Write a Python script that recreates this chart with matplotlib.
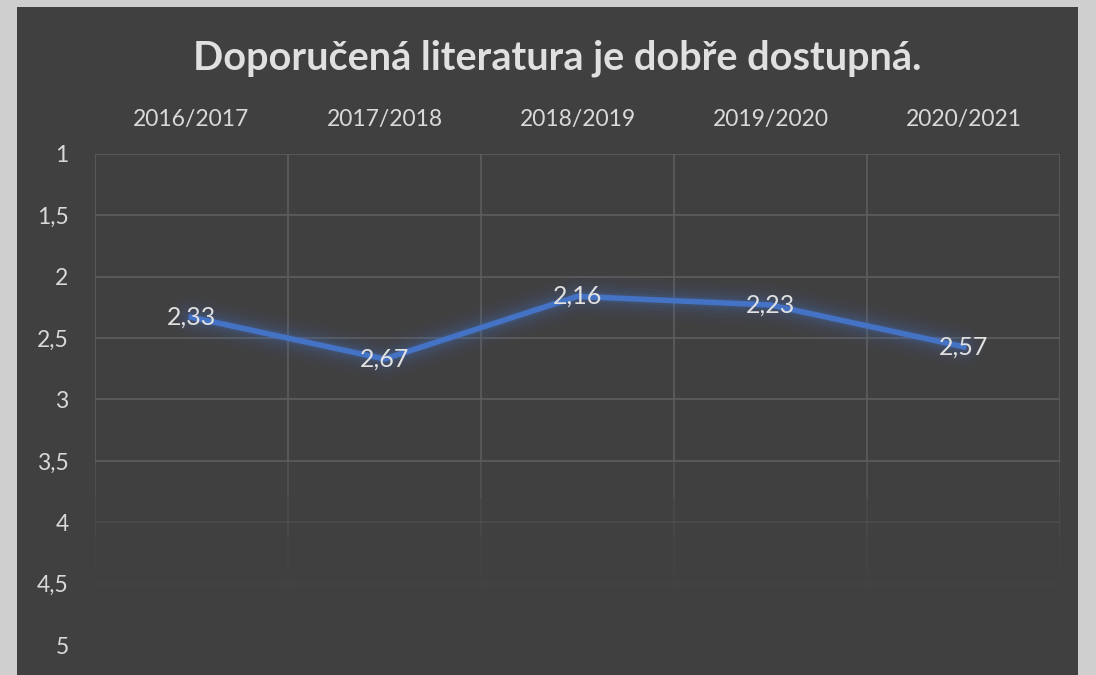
import matplotlib.pyplot as plt
from matplotlib.patches import Rectangle

years = ["2016/2017", "2017/2018", "2018/2019", "2019/2020", "2020/2021"]
scores = [2.33, 2.67, 2.16, 2.23, 2.57]
score_labels = ["2,33", "2,67", "2,16", "2,23", "2,57"]
y_ticks = [1, 1.5, 2, 2.5, 3, 3.5, 4, 4.5, 5]
y_tick_labels = ["1", "1,5", "2", "2,5", "3", "3,5", "4", "4,5", "5"]

plt.rcParams['font.family'] = ['Lato', 'DejaVu Sans']

fig = plt.figure(figsize=(10.96, 6.75), dpi=100)
fig.patch.set_facecolor("#cfcfcf")
# dark panel behind everything
fig.patches.append(Rectangle((17 / 1096, 0), (1078 - 17) / 1096, 1 - 7 / 675,
                             transform=fig.transFigure, facecolor="#404040",
                             edgecolor="none", zorder=-5))

ax = fig.add_axes([95 / 1096, 1 - 645 / 675, (1060 - 95) / 1096, (645 - 154) / 675])
ax.set_zorder(2)
ax.set_facecolor("none")
n = len(years)
x = list(range(n))
ax.set_xlim(-0.5, n - 0.5)
ax.set_ylim(5, 1)

# grid that fades out towards the bottom
grid_col = "#5e5e5e"
for yv in y_ticks:
    if yv <= 3.5:
        a = 1.0
    elif yv == 4:
        a = 0.35
    elif yv == 4.5:
        a = 0.12
    else:
        a = 0.0
    ax.plot([-0.5, n - 0.5], [yv, yv], color=grid_col, lw=1.2, alpha=a, zorder=1)
steps = [(1, 3.5, 1.0), (3.5, 3.8, 0.6), (3.8, 4.1, 0.35), (4.1, 4.4, 0.15), (4.4, 4.7, 0.06)]
for xv in [i - 0.5 for i in range(n + 1)]:
    for y0, y1, a in steps:
        ax.plot([xv, xv], [y0, y1], color=grid_col, lw=1.2, alpha=a, zorder=1,
                solid_capstyle="butt")

# soft glow around the line
for w, a in [(30, 0.04), (22, 0.05), (16, 0.07), (11, 0.1), (7, 0.14)]:
    ax.plot(x, scores, color="#4472c4", lw=w, alpha=a, solid_joinstyle="round",
            solid_capstyle="round", zorder=2)
ax.plot(x, scores, color="#4472c4", lw=4, solid_joinstyle="round", zorder=3)

for xi, yi, lab in zip(x, scores, score_labels):
    ax.text(xi, yi, lab, ha="center", va="center", fontsize=18, color="#e0e0e0", zorder=4)

ax.xaxis.tick_top()
ax.set_xticks(x)
ax.set_xticklabels(years, fontsize=16.5, color="#d9d9d9")
ax.set_yticks(y_ticks)
ax.set_yticklabels(y_tick_labels, fontsize=16.5, color="#d9d9d9")
ax.tick_params(axis="y", length=0, pad=19)
ax.tick_params(axis="x", length=0, pad=17)
for s in ax.spines.values():
    s.set_visible(False)

fig.text(557 / 1096, 1 - 58 / 675, "Doporučená literatura je dobře dostupná.",
         ha="center", va="center", fontsize=28.5, fontweight="bold", color="#e0e0e0")

fig.savefig("out.png", dpi=100, facecolor=fig.get_facecolor())
